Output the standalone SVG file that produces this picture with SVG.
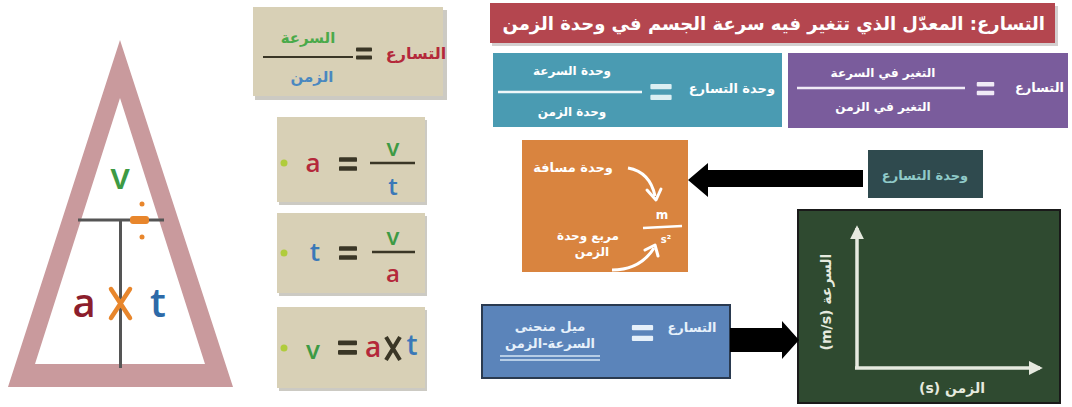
<svg xmlns="http://www.w3.org/2000/svg" width="1072" height="407" viewBox="0 0 1072 407">
<style>
.ar{font-family:"DejaVu Sans",sans-serif;font-weight:bold}
.lt{font-family:"Open Sans","DejaVu Sans",sans-serif;font-weight:600}
.beige{fill:#d8d0b6}
.shadow{fill:#9a9588;opacity:0.5}
.dot{fill:#b0cc3c}
</style>
<defs>
<symbol id="eq" viewBox="0 0 20 16" overflow="visible">
<rect x="0" y="0" width="20" height="5" rx="1"/>
<rect x="0" y="10" width="20" height="5" rx="1"/>
</symbol>
<marker id="wh" viewBox="0 0 10 10" refX="8" refY="5" markerWidth="4" markerHeight="4" orient="auto">
<path d="M0,0 L10,5 L0,10 Z" fill="#e6eadf"/>
</marker>
</defs>
<rect width="1072" height="407" fill="#ffffff"/>

<g id="triangle">
<path d="M120,40 L8,387 L233,387 Z M120,98 L35,364 L205,364 Z" fill="#c99a9d" fill-rule="evenodd"/>
<line x1="78" y1="220" x2="164" y2="220" stroke="#555" stroke-width="3"/>
<line x1="120.5" y1="220" x2="120.5" y2="368" stroke="#555" stroke-width="3"/>
<rect x="130" y="216" width="19" height="8" rx="3" fill="#e8862c"/>
<circle cx="142" cy="204" r="2.5" fill="#e8862c"/>
<circle cx="142" cy="237" r="2.5" fill="#e8862c"/>
<text x="120" y="189" class="lt" font-size="36" fill="#3d9a44" text-anchor="middle">v</text>
<text x="84" y="317" class="lt" font-size="40" fill="#8c1e2c" text-anchor="middle">a</text>
<path d="M111,289 L130,318 M130,289 L111,318" stroke="#e8862c" stroke-width="4.5" stroke-linecap="round"/>
<text x="158" y="317" class="lt" font-size="40" fill="#2d6aa8" text-anchor="middle">t</text>
</g>

<g id="def-box">
<rect x="255" y="10" width="192" height="90" class="shadow"/>
<rect x="253" y="7" width="190" height="89" class="beige"/>
<text x="416" y="59" class="ar" font-size="16" fill="#b4283a" text-anchor="middle">التسارع</text>
<use href="#eq" x="356" y="47" width="16" height="14" fill="#3a3626"/>
<line x1="263" y1="57" x2="353" y2="57" stroke="#3a3626" stroke-width="2"/>
<text x="308" y="43" class="ar" font-size="15" fill="#4aaa4a" text-anchor="middle">السرعة</text>
<text x="312" y="82" class="ar" font-size="15" fill="#4a88c0" text-anchor="middle">الزمن</text>
</g>

<g id="eq-a">
<rect x="279" y="120" width="148" height="85" class="shadow"/>
<rect x="277" y="117" width="148" height="85" class="beige"/>
<circle cx="284" cy="163" r="3.5" class="dot"/>
<text x="313" y="172" class="lt" font-size="26" text-anchor="middle" fill="#b4283a">a</text>
<use href="#eq" x="339" y="157" width="18" height="15" fill="#3a3626"/>
<line x1="370" y1="163" x2="415" y2="163" stroke="#3a3626" stroke-width="2.5"/>
<text x="393" y="156" class="lt" font-size="24" text-anchor="middle" fill="#3d9a44">v</text>
<text x="393" y="195" class="lt" font-size="24" text-anchor="middle" fill="#3a78b8">t</text>
</g>

<g id="eq-t">
<rect x="279" y="216" width="148" height="80" class="shadow"/>
<rect x="277" y="213" width="148" height="80" class="beige"/>
<circle cx="284" cy="253" r="3.5" class="dot"/>
<text x="315" y="261" class="lt" font-size="26" text-anchor="middle" fill="#3a78b8">t</text>
<use href="#eq" x="339" y="246" width="18" height="15" fill="#3a3626"/>
<line x1="372" y1="252" x2="415" y2="252" stroke="#3a3626" stroke-width="2.5"/>
<text x="393" y="245" class="lt" font-size="24" text-anchor="middle" fill="#3d9a44">v</text>
<text x="393" y="282" class="lt" font-size="24" text-anchor="middle" fill="#b4283a">a</text>
</g>

<g id="eq-v">
<rect x="279" y="310" width="148" height="81" class="shadow"/>
<rect x="277" y="307" width="148" height="81" class="beige"/>
<circle cx="284" cy="348" r="3.5" class="dot"/>
<text x="313" y="359" class="lt" font-size="26" text-anchor="middle" fill="#3d9a44">v</text>
<use href="#eq" x="338" y="340" width="19" height="16" fill="#3a3626"/>
<text x="373" y="357" class="lt" font-size="28" text-anchor="middle" fill="#b4283a">a</text>
<path d="M386,337 L400,360 M400,337 L386,360" stroke="#3a3626" stroke-width="4"/>
<text x="412" y="355" class="lt" font-size="28" text-anchor="middle" fill="#3a78b8">t</text>
</g>

<g id="title">
<rect x="492" y="6" width="566" height="40" fill="#a8a0a0" opacity="0.5"/>
<rect x="490" y="3" width="565" height="40" fill="#b4464f"/>
<text x="1045" y="30" class="ar" font-size="18" fill="#ffffff" text-anchor="start" direction="rtl">التسارع: المعدّل الذي تتغير فيه سرعة الجسم في وحدة الزمن</text>
</g>

<g id="unit-box">
<rect x="493" y="53" width="289" height="74" fill="#4a9bb2"/>
<text x="775" y="93" class="ar" font-size="13" fill="#ffffff" text-anchor="end">وحدة التسارع</text>
<use href="#eq" x="649" y="84" width="24" height="17" fill="#dceff3"/>
<line x1="498" y1="92" x2="642" y2="92" stroke="#f0f8fa" stroke-width="2.5"/>
<text x="572" y="75" class="ar" font-size="12" fill="#ffffff" text-anchor="middle">وحدة السرعة</text>
<text x="572" y="116" class="ar" font-size="12" fill="#ffffff" text-anchor="middle">وحدة الزمن</text>
</g>

<g id="formula-box">
<rect x="788" y="53" width="280" height="75" fill="#7a5c9c"/>
<text x="1064" y="92" class="ar" font-size="13" fill="#ffffff" text-anchor="end">التسارع</text>
<use href="#eq" x="974" y="82" width="23" height="14" fill="#f0eaf6"/>
<line x1="797" y1="88" x2="965" y2="88" stroke="#f0eaf6" stroke-width="2.5"/>
<text x="883" y="77" class="ar" font-size="12" fill="#ffffff" text-anchor="middle">التغير في السرعة</text>
<text x="883" y="111" class="ar" font-size="12" fill="#ffffff" text-anchor="middle">التغير في الزمن</text>
</g>

<g id="unit-detail">
<rect x="522" y="140" width="166" height="132" fill="#d9843f"/>
<text x="573" y="172" class="ar" font-size="13" fill="#ffffff" text-anchor="middle">وحدة مسافة</text>
<path d="M628,168 Q650,172 655,196" fill="none" stroke="#ffffff" stroke-width="3"/>
<path d="M647,190 L656,200 L661,189" fill="none" stroke="#ffffff" stroke-width="3" stroke-linecap="round" stroke-linejoin="round"/>
<text x="662" y="219" class="ar" font-size="12" fill="#ffffff" text-anchor="middle">m</text>
<line x1="643" y1="228" x2="682" y2="226" stroke="#ffffff" stroke-width="2.5"/>
<text x="666" y="243" class="ar" font-size="10" fill="#ffffff" text-anchor="middle">s²</text>
<text x="588" y="240" class="ar" font-size="12" fill="#ffffff" text-anchor="middle">مربع وحدة</text>
<text x="592" y="256" class="ar" font-size="12" fill="#ffffff" text-anchor="middle">الزمن</text>
<path d="M612,270 Q640,270 654,248" fill="none" stroke="#ffffff" stroke-width="3"/>
<path d="M645,250 L655,245 L658,256" fill="none" stroke="#ffffff" stroke-width="3" stroke-linecap="round" stroke-linejoin="round"/>
</g>

<g id="unit-label">
<rect x="868" y="150" width="115" height="48" fill="#2f4a4e"/>
<text x="925" y="180" class="ar" font-size="13" fill="#8fcac8" text-anchor="middle">وحدة التسارع</text>
</g>

<g id="slope-box">
<rect x="482" y="305" width="248" height="73" fill="#5b84ba" stroke="#2a3a50" stroke-width="2"/>
<text x="692" y="332" class="ar" font-size="13" fill="#e6f0fa" text-anchor="middle">التسارع</text>
<use href="#eq" x="628" y="325" width="29" height="17" fill="#e6f0fa"/>
<text x="550" y="331" class="ar" font-size="13" fill="#e6f0fa" text-anchor="middle">ميل منحنى</text>
<text x="550" y="348" class="ar" font-size="13" fill="#e6f0fa" text-anchor="middle" direction="rtl">السرعة-الزمن</text>
<line x1="500" y1="356" x2="600" y2="356" stroke="#d4e6f4" stroke-width="1.5"/>
<line x1="500" y1="360" x2="600" y2="360" stroke="#d4e6f4" stroke-width="1.5"/>
</g>

<g id="graph">
<rect x="798" y="210" width="262" height="193" fill="#2f4a30" stroke="#1a1a1a" stroke-width="2"/>
<line x1="857" y1="368" x2="857" y2="228" stroke="#e6eadf" stroke-width="3.5" marker-end="url(#wh)"/>
<line x1="855" y1="368" x2="1040" y2="368" stroke="#e6eadf" stroke-width="3.5" marker-end="url(#wh)"/>
<text x="952" y="393" class="ar" font-size="14" fill="#e6eadf" text-anchor="middle" direction="rtl">الزمن (s)</text>
<text transform="translate(831,302) rotate(-90)" class="ar" font-size="14" fill="#e6eadf" text-anchor="middle" direction="rtl">السرعة (m/s)</text>
</g>

<g id="connectors">
<path d="M863,170 L708,170 L708,163 L688,180 L708,197 L708,187 L863,187 Z" fill="#000000"/>
<path d="M730,328 L782,328 L782,321 L799,340 L782,359 L782,352 L730,352 Z" fill="#000000"/>
</g>
</svg>
